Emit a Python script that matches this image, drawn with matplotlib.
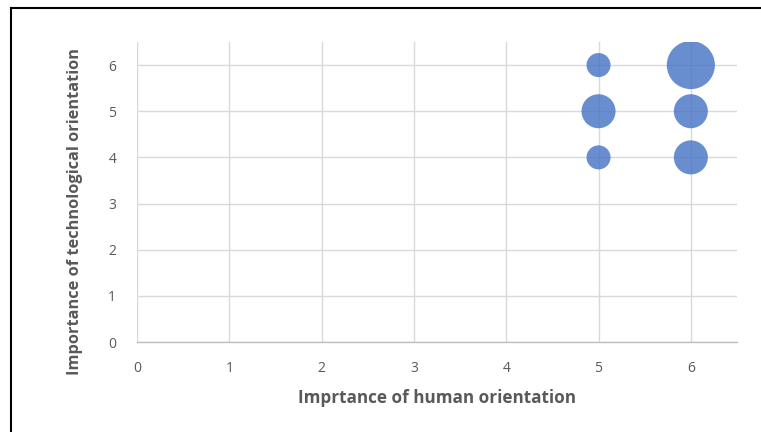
import numpy as np
import matplotlib
matplotlib.use('Agg')
import matplotlib.pyplot as plt
from matplotlib.lines import Line2D

# bubble data: human orientation (x), technological orientation (y), bubble size
human = [5, 6, 5, 6, 5, 6]
tech = [6, 6, 5, 5, 4, 4]
count = [1, 4, 2, 2, 1, 2]

x_ticks = [0, 1, 2, 3, 4, 5, 6]
y_ticks = [0, 1, 2, 3, 4, 5, 6]

plt.rcParams['font.family'] = ['Open Sans', 'DejaVu Sans']

fig = plt.figure(figsize=(7.61, 4.32), dpi=100)
ax = fig.add_axes([137 / 761, 1 - 342 / 432, 600 / 761, 300 / 432])

ax.scatter(human, tech, s=np.array(count) * 300, color='#4472C4', alpha=0.8,
           edgecolors='none', zorder=3)

ax.set_xlim(0, 6.5)
ax.set_ylim(0, 6.5)
ax.set_xticks(x_ticks)
ax.set_yticks(y_ticks)
ax.grid(True, color='#d9d9d9', linewidth=1, zorder=0)
ax.set_axisbelow(True)
for side in ['top', 'right', 'left']:
    ax.spines[side].set_visible(False)
ax.spines['bottom'].set_color('#bfbfbf')
ax.spines['bottom'].set_linewidth(1)
ax.tick_params(axis='x', length=0, labelsize=10, labelcolor='#595959', pad=14)
ax.tick_params(axis='y', length=0, labelsize=10, labelcolor='#595959', pad=15)

ax.set_xlabel('Imprtance of human orientation', fontsize=12.3, fontweight='bold',
              color='#595959', labelpad=9)
ax.set_ylabel('Importance of technological orientation', fontsize=11.8,
              fontweight='bold', color='#595959')
ax.yaxis.set_label_coords(-0.09, 0.435)

# outer frame (left and top edges visible)
fig.add_artist(Line2D([11 / 761, 11 / 761], [0, 1 - 8 / 432],
                      transform=fig.transFigure, color='black', linewidth=1.5))
fig.add_artist(Line2D([11 / 761, 1], [1 - 8 / 432, 1 - 8 / 432],
                      transform=fig.transFigure, color='black', linewidth=1.5))

plt.savefig('out.png', dpi=100)
